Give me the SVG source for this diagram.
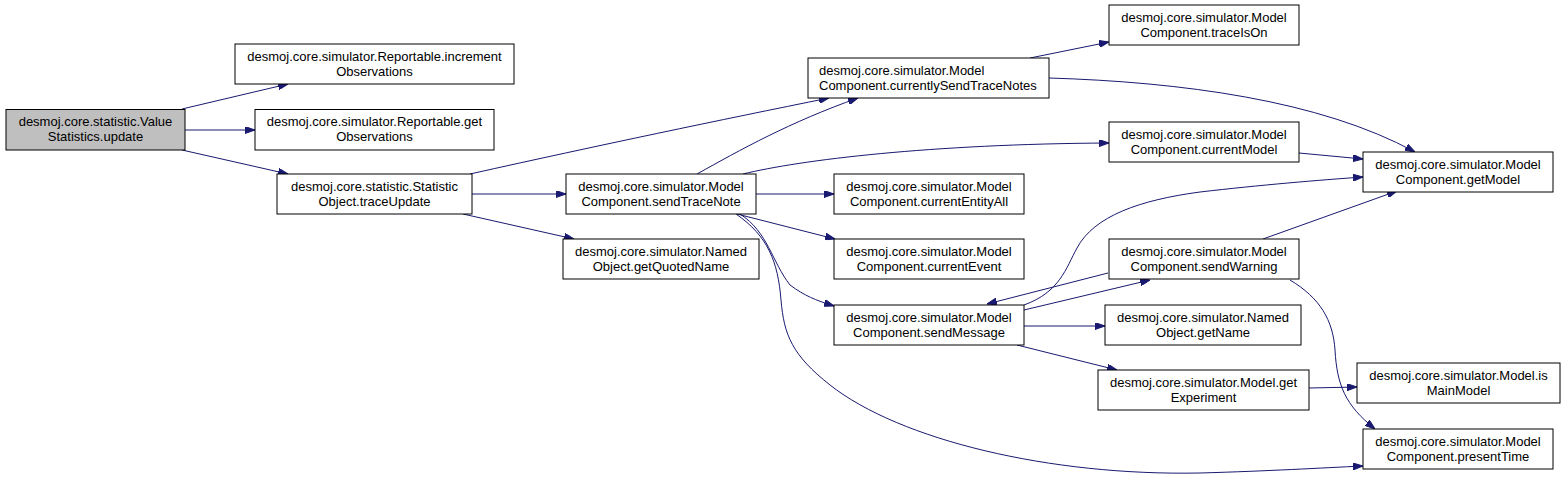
<svg xmlns="http://www.w3.org/2000/svg" width="1565" height="481" viewBox="0 0 1565 481">
<style>
.n rect{fill:#fff;stroke:#000;stroke-width:1}
.n.root rect{fill:#bfbfbf}
.n text{font-family:"Liberation Sans",Arial,sans-serif;font-size:13px;fill:#000;text-anchor:middle}
.n text.l{text-anchor:start}
#edges path{fill:none;stroke:#191970;stroke-width:1;marker-end:url(#ah)}
</style>
<defs>
<marker id="ah" markerWidth="10" markerHeight="7" refX="10" refY="3.5" orient="auto" markerUnits="userSpaceOnUse">
<path d="M0,0 L10,3.5 L0,7 z" fill="#191970" stroke="#191970" stroke-width="1"/>
</marker>
</defs>
<rect width="1565" height="481" fill="#fff"/>
<g id="edges">
<path d="M182,109 L288,84"/>
<path d="M185,130 L255,130"/>
<path d="M182,150 L288,174"/>
<path d="M470,174 C600,145 720,120 829,98"/>
<path d="M472,194 L566,194"/>
<path d="M463,214 L574,239"/>
<path d="M697,174 C740,150 790,122 858,98"/>
<path d="M743,174 C800,160 930,144 1109,143"/>
<path d="M756,194 L834,194"/>
<path d="M737,214 L835,239"/>
<path d="M740,214 C768,232 772,262 790,285 C805,296 815,300 834,306"/>
<path d="M736,214 C768,236 778,262 781,300 C784,335 792,355 830,385 C900,440 1050,476 1200,473 C1270,471 1320,468 1363,466"/>
<path d="M1030,58 L1109,42"/>
<path d="M1049,78 C1180,82 1320,100 1415,152"/>
<path d="M1299,153 L1363,159"/>
<path d="M1024,305 C1060,292 1066,268 1077,248 C1094,216 1140,200 1200,192 C1260,185 1320,180 1363,177"/>
<path d="M1263,239 L1397,191"/>
<path d="M1108,273 L987,304"/>
<path d="M1024,310 L1150,280"/>
<path d="M1024,326 L1105,326"/>
<path d="M1017,345 L1117,370"/>
<path d="M1290,280 C1320,298 1333,320 1335,350 C1337,385 1345,405 1375,429"/>
<path d="M1309,388 L1357,387"/>
</g>
<g id="n_update" class="n root"><rect x="6" y="109.5" width="179" height="40.5"/><text x="95.5" y="126">desmoj.core.statistic.Value</text><text x="95.5" y="141">Statistics.update</text></g>
<g id="n_increment" class="n"><rect x="235" y="44" width="279" height="40"/><text x="374.5" y="60.5">desmoj.core.simulator.Reportable.increment</text><text x="374.5" y="75.5">Observations</text></g>
<g id="n_getObs" class="n"><rect x="255" y="109.5" width="239" height="40.5"/><text x="374.5" y="126">desmoj.core.simulator.Reportable.get</text><text x="374.5" y="141">Observations</text></g>
<g id="n_traceUpdate" class="n"><rect x="277" y="174" width="195" height="40"/><text x="374.5" y="190.5">desmoj.core.statistic.Statistic</text><text x="374.5" y="205.5">Object.traceUpdate</text></g>
<g id="n_sendTraceNote" class="n"><rect x="566" y="174" width="190" height="40"/><text x="661" y="190.5">desmoj.core.simulator.Model</text><text x="661" y="205.5">Component.sendTraceNote</text></g>
<g id="n_getQuotedName" class="n"><rect x="563" y="239" width="196" height="40"/><text x="661" y="255.5">desmoj.core.simulator.Named</text><text x="661" y="270.5">Object.getQuotedName</text></g>
<g id="n_currentlySend" class="n"><rect x="808" y="58" width="241" height="40"/><text class="l" x="819" y="74.5">desmoj.core.simulator.Model</text><text class="l" x="819" y="89.5">Component.currentlySendTraceNotes</text></g>
<g id="n_traceIsOn" class="n"><rect x="1109" y="5" width="190" height="40"/><text x="1204" y="21.5">desmoj.core.simulator.Model</text><text x="1204" y="36.5">Component.traceIsOn</text></g>
<g id="n_currentModel" class="n"><rect x="1109" y="122" width="190" height="40"/><text x="1204" y="138.5">desmoj.core.simulator.Model</text><text x="1204" y="153.5">Component.currentModel</text></g>
<g id="n_currentEntityAll" class="n"><rect x="834" y="174" width="190" height="40"/><text x="929" y="190.5">desmoj.core.simulator.Model</text><text x="929" y="205.5">Component.currentEntityAll</text></g>
<g id="n_currentEvent" class="n"><rect x="834" y="239" width="190" height="40"/><text x="929" y="255.5">desmoj.core.simulator.Model</text><text x="929" y="270.5">Component.currentEvent</text></g>
<g id="n_sendMessage" class="n"><rect x="834" y="305" width="190" height="40"/><text x="929" y="321.5">desmoj.core.simulator.Model</text><text x="929" y="336.5">Component.sendMessage</text></g>
<g id="n_sendWarning" class="n"><rect x="1109" y="239" width="190" height="40"/><text x="1204" y="255.5">desmoj.core.simulator.Model</text><text x="1204" y="270.5">Component.sendWarning</text></g>
<g id="n_getName" class="n"><rect x="1105" y="305" width="196" height="40"/><text x="1203" y="321.5">desmoj.core.simulator.Named</text><text x="1203" y="336.5">Object.getName</text></g>
<g id="n_getModel" class="n"><rect x="1363" y="152" width="190" height="40"/><text x="1458" y="168.5">desmoj.core.simulator.Model</text><text x="1458" y="183.5">Component.getModel</text></g>
<g id="n_getExperiment" class="n"><rect x="1098" y="370" width="211" height="40"/><text x="1203.5" y="386.5">desmoj.core.simulator.Model.get</text><text x="1203.5" y="401.5">Experiment</text></g>
<g id="n_isMainModel" class="n"><rect x="1357" y="363" width="203" height="40"/><text x="1458.5" y="379.5">desmoj.core.simulator.Model.is</text><text x="1458.5" y="394.5">MainModel</text></g>
<g id="n_presentTime" class="n"><rect x="1363" y="429" width="190" height="40"/><text x="1458" y="445.5">desmoj.core.simulator.Model</text><text x="1458" y="460.5">Component.presentTime</text></g>
</svg>
